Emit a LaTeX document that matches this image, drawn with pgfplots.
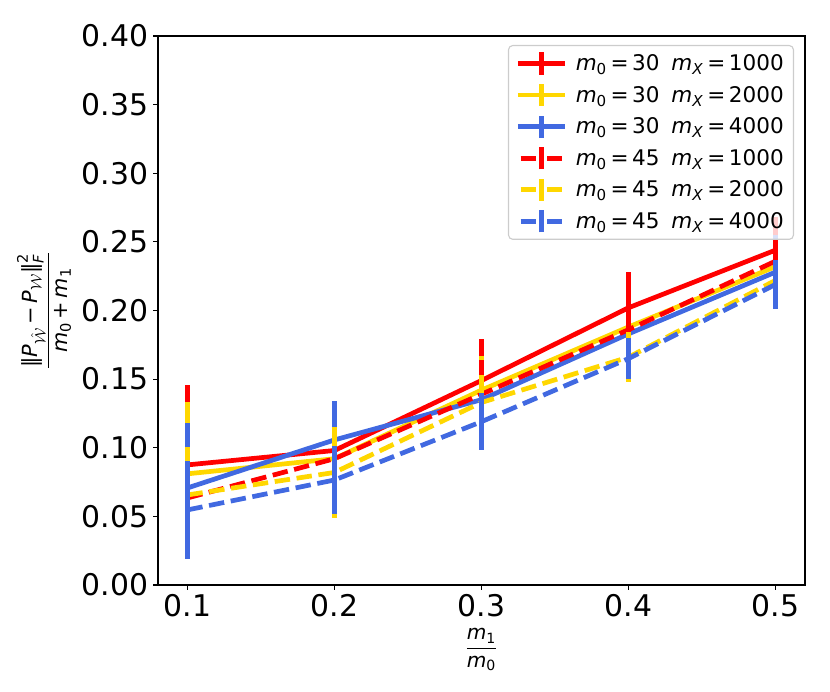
\documentclass[border=0pt]{standalone}
\usepackage{fontspec}
\setmainfont{DejaVu Sans}
\usepackage{amsmath}
\usepackage{pgfplots}
\usepackage{pgfplotstable}
\pgfplotsset{compat=1.18}
\definecolor{cred}{RGB}{255,0,0}
\definecolor{cgold}{RGB}{255,215,0}
\definecolor{cblue}{RGB}{65,105,225}
\pgfplotstableread{
x y e
0.1 0.0875 0.058
0.2 0.098 0.015
0.3 0.149 0.030
0.4 0.202 0.026
0.5 0.244 0.024
}\RS
\pgfplotstableread{
x y e
0.1 0.081 0.052
0.2 0.092 0.015
0.3 0.142 0.025
0.4 0.188 0.020
0.5 0.232 0.015
}\YS
\pgfplotstableread{
x y e
0.1 0.0707 0.047
0.2 0.1057 0.028
0.3 0.135 0.020
0.4 0.183 0.015
0.5 0.228 0.027
}\BS
\pgfplotstableread{
x y e
0.1 0.0634 0.035
0.2 0.092 0.018
0.3 0.139 0.025
0.4 0.186 0.022
0.5 0.236 0.015
}\RD
\pgfplotstableread{
x y e
0.1 0.0656 0.035
0.2 0.082 0.033
0.3 0.133 0.020
0.4 0.166 0.018
0.5 0.222 0.012
}\YD
\pgfplotstableread{
x y e
0.1 0.0547 0.036
0.2 0.0765 0.025
0.3 0.119 0.021
0.4 0.165 0.015
0.5 0.219 0.018
}\BD
\newcommand{\lab}[2]{\textit{m}\textsubscript{0}\,=\,#1\hspace{0.55em}\textit{m}\textsubscript{\textit{X}}\,=\,#2}
\pgfplotsset{
  ser/.style={line width=3.4pt, mark=none, line join=round,
    error bars/.cd, y dir=both, y explicit, error mark=none,
    error bar style={line width=3.4pt, solid}},
  solidleg/.style={legend image code/.code={
    \draw[##1,solid,line width=3.4pt] (0pt,0pt) -- (34pt,0pt);
    \draw[##1,solid,line width=3.4pt] (17pt,-8pt) -- (17pt,8pt);}},
  dashleg/.style={legend image code/.code={
    \draw[##1,solid,line width=3.4pt] (2pt,0pt) -- (13pt,0pt);
    \draw[##1,solid,line width=3.4pt] (21pt,0pt) -- (32pt,0pt);
    \draw[##1,solid,line width=3.4pt] (17pt,-8pt) -- (17pt,8pt);}},
}
\begin{document}
\begin{tikzpicture}
\begin{axis}[
  scale only axis,
  width=465.84pt, height=395.28pt,
  xmin=0.08, xmax=0.52, ymin=0, ymax=0.40,
  xtick={0.1,0.2,0.3,0.4,0.5},
  ytick={0,0.05,0.10,0.15,0.20,0.25,0.30,0.35,0.40},
  xtick pos=bottom, ytick pos=left,
  tick align=outside,
  major tick length=3.5pt,
  every tick/.style={black, line width=0.8pt},
  axis line style={line width=0.8pt},
  tick label style={font=\fontsize{21.5}{25}\selectfont},
  /pgf/number format/assume math mode=true,
  xticklabel style={/pgf/number format/.cd, fixed, fixed zerofill, precision=1},
  yticklabel style={/pgf/number format/.cd, fixed, fixed zerofill, precision=2},
  scaled y ticks=false, scaled x ticks=false,
  xlabel={$\dfrac{\textit{m}_{\text{1}}}{\textit{m}_{\text{0}}}$},
  xlabel style={font=\fontsize{14.5}{17}\selectfont, at={(axis description cs:0.5,-0.118)}, anchor=center},
  ylabel={$\dfrac{\text{‖}\textit{P}_{\hat{\mathcal{W}}}\text{\,−\,}\textit{P}_{\mathcal{W}}\text{‖}^{\text{2}}_{\textit{F}}}{\textit{m}_{\text{0}}\text{\,+\,}\textit{m}_{\text{1}}}$},
  ylabel style={font=\fontsize{15}{18}\selectfont, at={(axis description cs:-0.176,0.5)}, anchor=center},
  legend style={at={(axis description cs:0.983,0.9836)}, anchor=north east,
    draw=black!20, line width=0.8pt, rounded corners=3pt, fill=white, fill opacity=0.8, text opacity=1,
    font=\fontsize{15.5}{18}\selectfont, row sep=3.3pt, inner xsep=5pt, inner ysep=3.3pt,
    /tikz/every odd column/.append style={column sep=4pt}},
  legend cell align=left,
  clip=false,
]
\addplot[color=cred, solidleg, ser] table[x=x,y=y,y error=e] {\RS};
\addlegendentry{\lab{30}{1000}}
\addplot[color=cgold, solidleg, ser] table[x=x,y=y,y error=e] {\YS};
\addlegendentry{\lab{30}{2000}}
\addplot[color=cblue, solidleg, ser] table[x=x,y=y,y error=e] {\BS};
\addlegendentry{\lab{30}{4000}}
\addplot[color=cred, dash pattern=on 11.1pt off 4.8pt, dashleg, ser] table[x=x,y=y,y error=e] {\RD};
\addlegendentry{\lab{45}{1000}}
\addplot[color=cgold, dash pattern=on 11.1pt off 4.8pt, dashleg, ser] table[x=x,y=y,y error=e] {\YD};
\addlegendentry{\lab{45}{2000}}
\addplot[color=cblue, dash pattern=on 11.1pt off 4.8pt, dashleg, ser] table[x=x,y=y,y error=e] {\BD};
\addlegendentry{\lab{45}{4000}}
\end{axis}
\path (current axis.south west) ++(-113.76pt,-77.04pt) coordinate (bbl);
\path (current axis.north east) ++(18pt,25.92pt) coordinate (btr);
\useasboundingbox (bbl) rectangle (btr);
\end{tikzpicture}
\end{document}
